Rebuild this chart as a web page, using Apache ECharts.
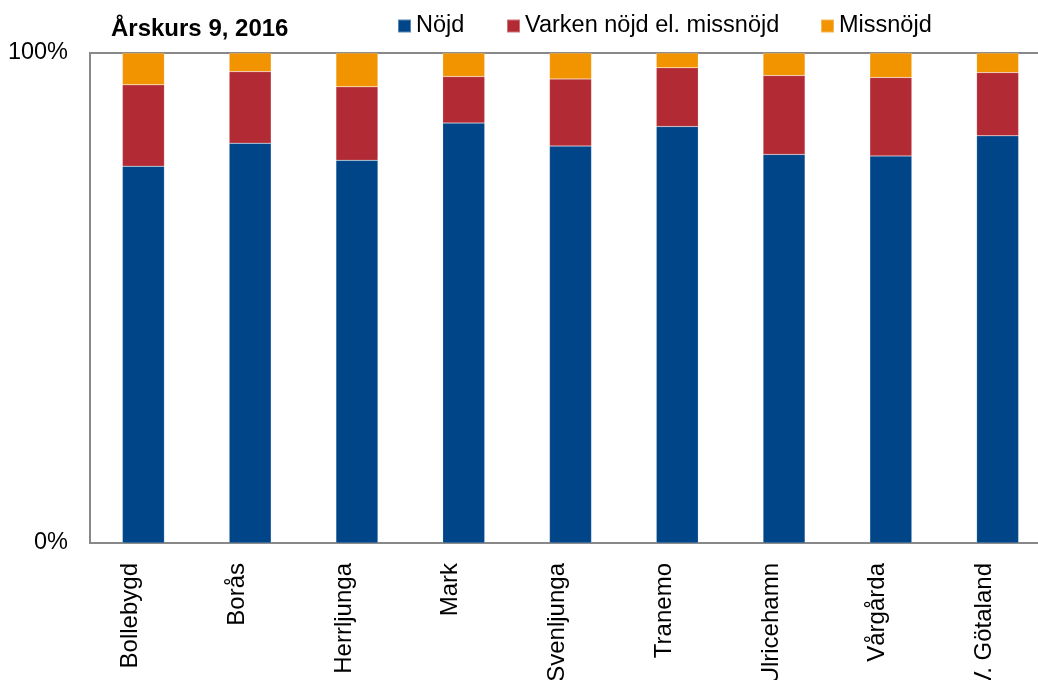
<!DOCTYPE html>
<html>
<head>
<meta charset="utf-8">
<script src="https://cdn.jsdelivr.net/npm/echarts@6/dist/echarts.min.js"></script>
<style>html,body{margin:0;padding:0;background:#fff;overflow:hidden;width:1038px;height:680px;}#c{width:1070px;height:680px;}</style>
</head>
<body>
<div id="c"></div>
<script>
const categories = ["Bollebygd", "Borås", "Herrljunga", "Mark", "Svenljunga", "Tranemo", "Ulricehamn", "Vårgårda", "V. Götaland"];
const nojd = [76.9, 81.6, 78.1, 85.7, 81.0, 85.0, 79.3, 79.0, 83.1];
const varken = [16.6, 14.6, 15.0, 9.5, 13.7, 12.0, 16.1, 16.0, 12.9];
const missnojd = [6.5, 3.8, 6.9, 4.8, 5.3, 3.0, 4.6, 5.0, 4.0];
const seriesNames = ['Nöjd', 'Varken nöjd el. missnöjd', 'Missnöjd'];
const yTicks = [0, 100];

const chart = echarts.init(document.getElementById('c'), null, {renderer: 'canvas'});
const font = 'Liberation Sans, Arial, sans-serif';
function mk(name, data, color) {
  return {
    name, type: 'bar', stack: 'a', data, barWidth: 42,
    itemStyle: {color, borderColor: 'rgba(255,255,255,0.35)', borderWidth: 0.5},
    emphasis: {disabled: true}
  };
}
function lg(name, left) {
  return {
    left, top: 14, itemWidth: 13, itemHeight: 13, icon: 'rect', padding: 0,
    textStyle: {fontFamily: font, fontSize: 23.5, color: '#000'},
    data: [name]
  };
}
chart.setOption({
  animation: false,
  title: {
    text: 'Årskurs 9, 2016', left: 111, top: 17, padding: 0,
    textStyle: {fontFamily: font, fontSize: 24, fontWeight: 'bold', color: '#000'}
  },
  legend: [lg(seriesNames[0], 397), lg(seriesNames[1], 506), lg(seriesNames[2], 820)],
  grid: {left: 90, top: 53, width: 961, height: 490, containLabel: false, outerBoundsMode: 'none',
    show: true, borderColor: '#888', borderWidth: 2, backgroundColor: '#fff'},
  xAxis: {
    type: 'category', data: categories,
    axisLine: {lineStyle: {color: '#888', width: 2}},
    axisTick: {show: false},
    axisLabel: {rotate: 90, margin: 20, fontFamily: font, fontSize: 24, color: '#000', interval: 0,
      verticalAlign: 'bottom', lineHeight: 26}
  },
  yAxis: {
    type: 'value', min: yTicks[0], max: yTicks[1], interval: 100,
    axisLine: {show: true, lineStyle: {color: '#888', width: 2}},
    axisTick: {show: false},
    splitLine: {show: false},
    axisLabel: {margin: 22, fontFamily: font, fontSize: 23.5, color: '#000', formatter: v => v + '%'}
  },
  series: [
    mk(seriesNames[0], nojd, '#004587'),
    mk(seriesNames[1], varken, '#B22A33'),
    mk(seriesNames[2], missnojd, '#F29400')
  ]
});
</script>
</body>
</html>
